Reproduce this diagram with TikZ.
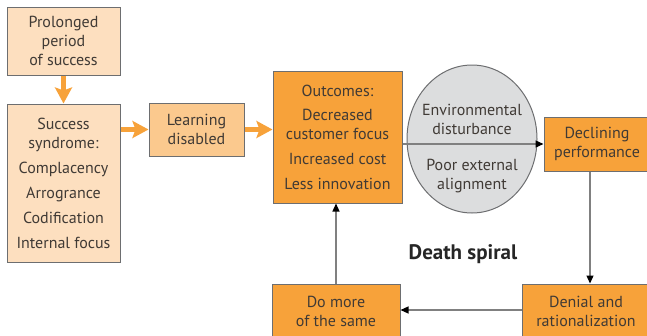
\documentclass[tikz,border=0pt]{standalone}
\usepackage{fontspec}
\setmainfont{PT Sans}
\usetikzlibrary{arrows.meta,shapes.geometric}
\definecolor{peach}{HTML}{FDDFBF}
\definecolor{apricot}{HTML}{FBC98E}
\definecolor{deeporange}{HTML}{F7A23A}
\definecolor{boxline}{HTML}{6D6E70}
\definecolor{cloud}{HTML}{DCDDDE}
\definecolor{txt}{HTML}{403A35}

\begin{document}
\begin{tikzpicture}[x=1pt, y=-1pt,
    box/.style={draw=boxline, line width=1pt, align=center, text=txt, inner sep=0pt,
                font=\fontsize{16}{19}\selectfont},
    push/.style={deeporange, line width=4.5pt, -{Stealth[length=16pt, width=17pt, inset=3pt]}},
    spin/.style={draw=gray, line width=1.2pt, -{Triangle[length=8pt, width=7pt, color=black]}}]
    \useasboundingbox (0,0) rectangle (647,335);

    \node[box, fill=peach, minimum width=113pt, minimum height=68pt] (prolonged) at (63.5,41)
        {Prolonged\\period\\of success};
    \node[box, fill=peach, minimum width=113pt, minimum height=158pt] (syndrome) at (63.5,183)
        {Success\\syndrome:\\[6pt]Complacency\\[6pt]Arrogrance\\[6pt]Codification\\[6pt]Internal focus};
    \node[box, fill=apricot, minimum width=95pt, minimum height=53pt] (learning) at (196.5,129.5)
        {Learning\\disabled};
    \node[box, fill=deeporange, minimum width=129pt, minimum height=132pt] (outcomes) at (337.5,137)
        {Outcomes:\\[5pt]Decreased\\customer focus\\[6pt]Increased cost\\[6pt]Less innovation};
    \node[box, fill=cloud, ellipse, minimum width=130pt, minimum height=148pt] (env) at (472,139) {};
    \node[box, draw=none] (disturb) at (472,119.5) {Environmental\\disturbance};
    \node[box, draw=none] (align) at (472,176.5) {Poor external\\alignment};
    \node[box, fill=deeporange, minimum width=106pt, minimum height=54pt] (declining) at (597,144)
        {Declining\\performance};
    \node[box, fill=deeporange, minimum width=128pt, minimum height=54pt] (denial) at (586,311)
        {Denial and\\rationalization};
    \node[box, fill=deeporange, minimum width=128pt, minimum height=54pt] (domore) at (336,311)
        {Do more\\of the same};
    \node[box, draw=none, font=\fontsize{21}{24}\selectfont\bfseries, text=black!85] (spiral) at (463,254)
        {Death spiral};

    \coordinate (midline) at (0,144);
    \coordinate (downline) at (590,0);
    \coordinate (lowline) at (0,310);

    \draw[push] (prolonged.south) -- (syndrome.north);
    \draw[push] (syndrome.east |- learning.west) -- (learning.west);
    \draw[push] (learning.east) -- (learning.east -| outcomes.west);
    \draw[spin] (outcomes.east |- midline) -- (declining.west |- midline);
    \draw[spin] (declining.south -| downline) -- (denial.north -| downline);
    \draw[spin] (denial.west |- lowline) -- (domore.east |- lowline);
    \draw[spin] (domore.north) -- (domore.north |- outcomes.south);
\end{tikzpicture}
\end{document}
